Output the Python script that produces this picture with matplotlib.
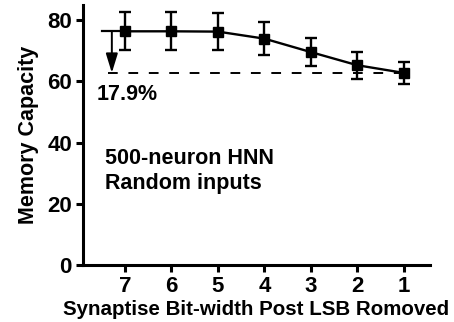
import numpy as np
import matplotlib.pyplot as plt

# data
bits = [7, 6, 5, 4, 3, 2, 1]
capacity = [76.4, 76.4, 76.3, 74.0, 69.6, 65.3, 62.8]
err = [6.2, 6.2, 6.0, 5.3, 4.7, 4.4, 3.7]
yticks = [0, 20, 40, 60, 80]

plt.rcParams.update({
    'font.family': 'Liberation Sans',
    'font.weight': 'bold',
    'font.size': 15,
})

fig = plt.figure(figsize=(4.54, 3.22), dpi=100)
ax = fig.add_axes([83/454, 1 - 265/322, (430 - 83)/454, (265 - 5)/322])

ax.errorbar(bits, capacity, yerr=err, color='black', lw=1.7, marker='s', ms=7.3,
            capsize=4, capthick=1.7, elinewidth=1.7, zorder=3)

# dashed reference line at the last value, solid line at the first
ax.plot([7.37, 0.87], [capacity[-1]] * 2, ls=(0, (5, 5.5)), color='black', lw=1.4)
ax.plot([7.5, 7], [capacity[0]] * 2, color='black', lw=1.6)
ax.annotate('', xy=(7.28, capacity[-1]), xytext=(7.28, capacity[0]),
            arrowprops=dict(arrowstyle='-|>,head_length=0.65,head_width=0.2',
                            color='black', lw=1.4, mutation_scale=18,
                            shrinkA=0, shrinkB=0))
ax.text(7.6, 55.7, '17.9%', fontsize=15.5, fontweight='bold', va='center', ha='left')
ax.text(7.43, 30.7, '500-neuron HNN\nRandom inputs', fontsize=15.5, fontweight='bold',
        va='center', ha='left', linespacing=1.3)

ax.set_xlim(7.9, 0.44)
ax.set_ylim(0, 85)
ax.set_xticks(bits)
ax.set_yticks(yticks)
for s in ['top', 'right']:
    ax.spines[s].set_visible(False)
for s in ['left', 'bottom']:
    ax.spines[s].set_linewidth(2.2)
ax.tick_params(axis='both', width=2.2, length=5, labelsize=16, pad=3)

ax.set_xlabel('Synaptise Bit-width Post LSB Romoved', fontsize=14.8, fontweight='bold', labelpad=2)
ax.set_ylabel('Memory Capacity', fontsize=15.5, fontweight='bold', labelpad=6)

fig.savefig('out.png', dpi=100)
